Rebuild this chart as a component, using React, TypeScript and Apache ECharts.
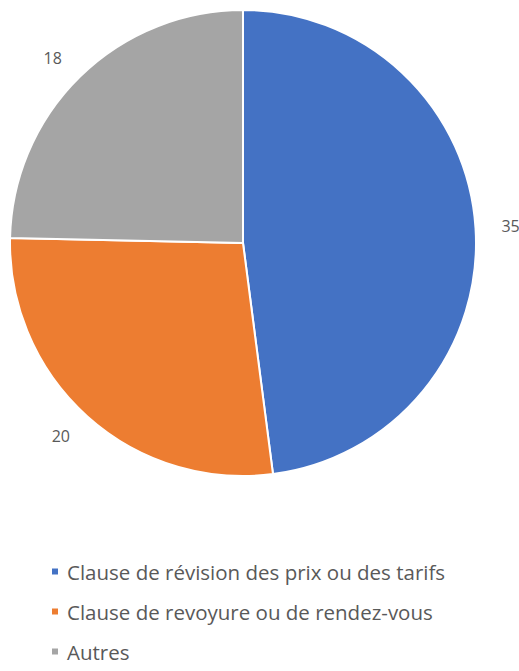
import React, { useEffect, useRef } from "react";
import * as echarts from "echarts";

const categories = [
  "Clause de révision des prix ou des tarifs",
  "Clause de revoyure ou de rendez-vous",
  "Autres",
];
const values = [35, 20, 18];
const colors = ["#4472C4", "#ED7D31", "#A5A5A5"];

export default function App() {
  const ref = useRef<HTMLDivElement>(null);
  useEffect(() => {
    if (!ref.current) return;
    const chart = echarts.init(ref.current, null, { renderer: "svg" });
    chart.setOption({
      animation: false,
      backgroundColor: "#ffffff",
      legend: {
        orient: "vertical",
        left: 45,
        top: 556,
        itemWidth: 8,
        itemHeight: 8,
        itemGap: 19,
        icon: "rect",
        data: categories,
        textStyle: {
          fontFamily: "Open Sans",
          fontSize: 20.5,
          color: "#595959",
          padding: [0, 0, 0, 3],
        },
      },
      series: [
        {
          type: "pie",
          center: [243, 243],
          radius: [0, 233],
          startAngle: 90,
          clockwise: true,
          avoidLabelOverlap: false,
          itemStyle: { borderColor: "#ffffff", borderWidth: 2 },
          label: {
            show: true,
            position: "outside",
            formatter: "{c}",
            fontFamily: "Open Sans",
            fontSize: 16,
            color: "#595959",
            distanceToLabelLine: 0,
          },
          labelLine: { show: false, length: 26, length2: 0 },
          data: categories.map((name, i) => ({
            name,
            value: values[i],
            itemStyle: { color: colors[i] },
          })),
        },
      ],
    });
    return () => chart.dispose();
  }, []);
  return (
    <div
      ref={ref}
      style={{ position: "absolute", left: 0, top: 0, width: 519, height: 671 }}
    />
  );
}
